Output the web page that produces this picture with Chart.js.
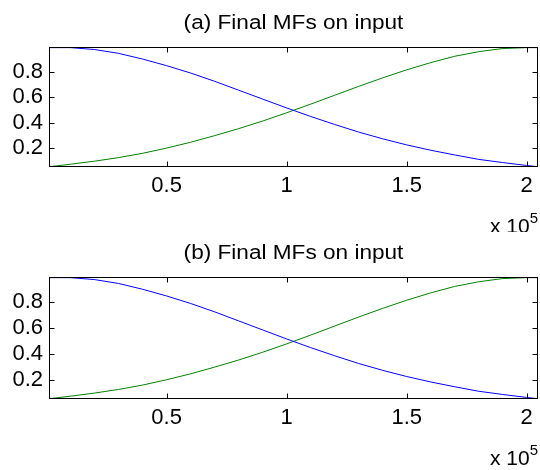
<!DOCTYPE html>
<html>
<head>
<meta charset="utf-8">
<script src="https://cdn.jsdelivr.net/npm/chart.js@4.4.1/dist/chart.umd.min.js"></script>
<style>
  body { margin: 0; background: #fff; width: 540px; height: 470px; overflow: hidden; position: relative; }
  .panel { position: absolute; left: 0; width: 540px; }
</style>
</head>
<body>
<div class="panel" style="top:0;height:232px"><canvas id="chartA"></canvas></div>
<div class="panel" style="top:232px;height:238px"><canvas id="chartB"></canvas></div>
<script>
// input values, in units of 1e5
const inputX = [0.01, 0.1, 0.2, 0.3, 0.4, 0.5, 0.6, 0.7, 0.8, 0.9, 1.0, 1.1, 1.2, 1.3, 1.4, 1.5, 1.6, 1.7, 1.8, 1.9, 2.0, 2.047];
// membership of the "low" MF (blue) and "high" MF (green)
const mfLow  = [0.99, 0.99, 0.975, 0.945, 0.90, 0.848, 0.79, 0.725, 0.655, 0.585, 0.515, 0.448, 0.385, 0.325, 0.272, 0.224, 0.182, 0.145, 0.11, 0.085, 0.062, 0.052];
const mfHigh = [0.052, 0.072, 0.096, 0.124, 0.158, 0.199, 0.245, 0.297, 0.352, 0.412, 0.477, 0.545, 0.615, 0.685, 0.752, 0.815, 0.872, 0.922, 0.958, 0.983, 0.99, 0.99];
const xTicks = [0.5, 1, 1.5, 2];
const yTicks = [0.2, 0.4, 0.6, 0.8];
const xRange = [0.01, 2.047];
const yRange = [0.05, 0.995];
const panelTitles = ['(a) Final MFs on input', '(b) Final MFs on input'];

const FONT = 'Arial, "Liberation Sans", sans-serif';

function points(ys) {
    return inputX.map((x, i) => ({ x: x, y: ys[i] }));
}

// box, inward ticks, title and the x10^5 exponent, MATLAB style
const matlabAxes = {
    id: 'matlabAxes',
    afterDraw(chart) {
        const { ctx, chartArea: a, scales } = chart;
        const L = Math.round(a.left) + 0.5, R = Math.round(a.right) - 0.5;
        const T = Math.round(a.top) + 0.5, B = Math.round(a.bottom) - 0.5;
        ctx.save();
        ctx.strokeStyle = '#000';
        ctx.lineWidth = 1;
        ctx.strokeRect(L, T, R - L, B - T);
        ctx.beginPath();
        xTicks.forEach(v => {
            const px = Math.round(scales.x.getPixelForValue(v)) + 0.5;
            ctx.moveTo(px, B); ctx.lineTo(px, B - 5);
            ctx.moveTo(px, T); ctx.lineTo(px, T + 5);
        });
        yTicks.forEach(v => {
            const py = Math.round(scales.y.getPixelForValue(v)) + 0.5;
            ctx.moveTo(L, py); ctx.lineTo(L + 5, py);
            ctx.moveTo(R, py); ctx.lineTo(R - 5, py);
        });
        ctx.stroke();

        ctx.fillStyle = '#000';
        // title, slightly stretched like the original export
        ctx.save();
        ctx.translate((a.left + a.right) / 2, a.top - 18);
        ctx.scale(1.13, 1);
        ctx.font = '20px ' + FONT;
        ctx.textAlign = 'center';
        ctx.textBaseline = 'alphabetic';
        ctx.fillText(chart.options.plugins.matlabAxes.title, 0, 0);
        ctx.restore();

        // exponent label under the right end of the x axis
        ctx.textAlign = 'right';
        ctx.font = '15px ' + FONT;
        ctx.fillText('5', a.right, a.bottom + 56);
        const w5 = ctx.measureText('5').width;
        ctx.font = '21px ' + FONT;
        ctx.fillText('x 10', a.right - w5, a.bottom + 66);
        ctx.restore();
    }
};

function makeChart(id, title, padTop, axisHeight) {
    return new Chart(document.getElementById(id), {
        type: 'line',
        data: {
            datasets: [
                { data: points(mfLow), borderColor: '#0000ff', borderWidth: 1, pointRadius: 0, tension: 0 },
                { data: points(mfHigh), borderColor: '#008000', borderWidth: 1, pointRadius: 0, tension: 0 }
            ]
        },
        options: {
            responsive: true,
            maintainAspectRatio: false,
            animation: false,
            layout: { padding: { top: padTop, right: 2, left: 0, bottom: 0 } },
            plugins: {
                legend: { display: false },
                tooltip: { enabled: false },
                matlabAxes: { title: title }
            },
            scales: {
                x: {
                    type: 'linear',
                    min: xRange[0],
                    max: xRange[1],
                    grid: { display: false, drawTicks: false },
                    border: { display: false },
                    afterBuildTicks: s => { s.ticks = xTicks.map(v => ({ value: v })); },
                    afterFit: s => { s.height = axisHeight; },
                    ticks: {
                        color: '#000',
                        padding: 6,
                        maxRotation: 0,
                        font: { family: FONT, size: 22 },
                        callback: v => String(v)
                    }
                },
                y: {
                    type: 'linear',
                    min: yRange[0],
                    max: yRange[1],
                    grid: { display: false, drawTicks: false },
                    border: { display: false },
                    afterBuildTicks: s => { s.ticks = yTicks.map(v => ({ value: v })); },
                    afterFit: s => { s.width = 49; },
                    ticks: {
                        color: '#000',
                        padding: 6,
                        font: { family: FONT, size: 22 },
                        callback: v => v.toFixed(1)
                    }
                }
            }
        },
        plugins: [matlabAxes]
    });
}

makeChart('chartA', panelTitles[0], 47, 65);
makeChart('chartB', panelTitles[1], 45, 71);
</script>
</body>
</html>
